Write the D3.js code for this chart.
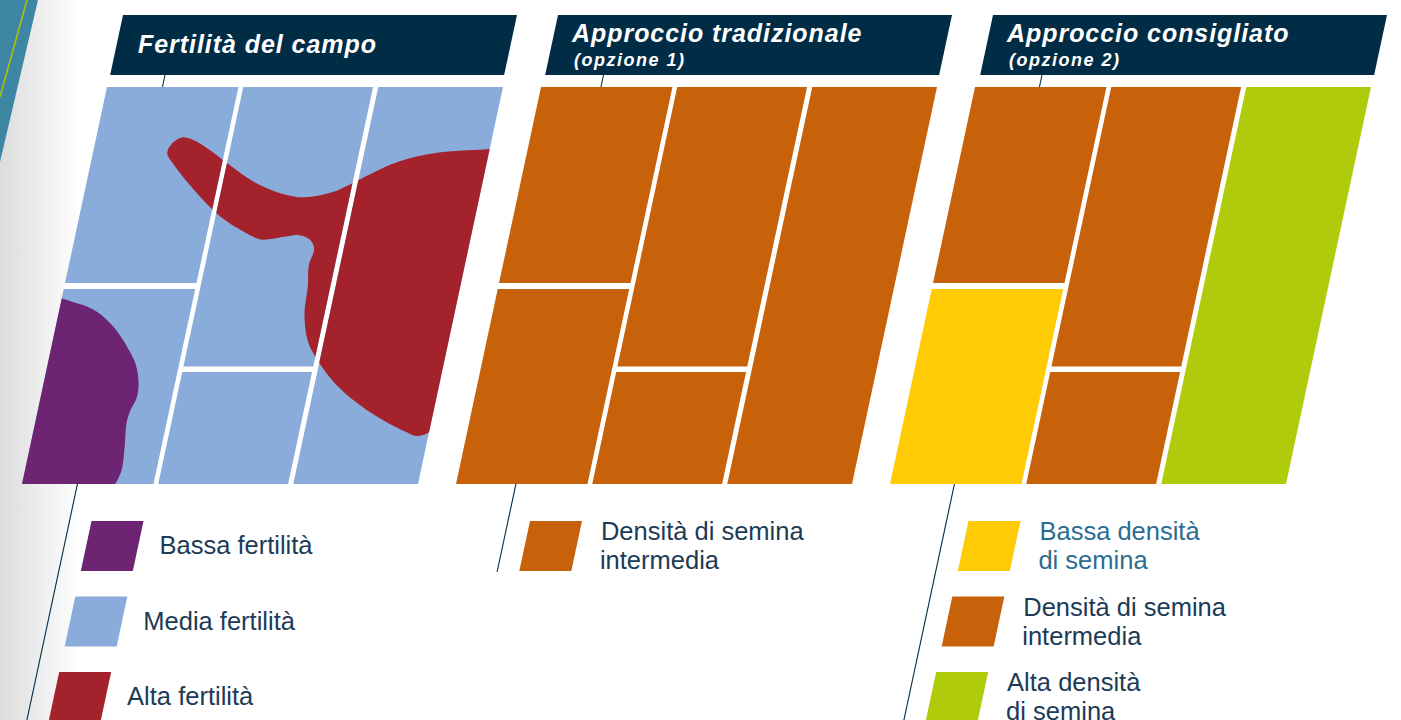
<!DOCTYPE html>
<html><head><meta charset="utf-8">
<script src="https://cdn.jsdelivr.net/npm/d3@7"></script>
<style>
body{margin:0;background:#fff;}
svg{display:block;font-family:"Liberation Sans",Arial,Helvetica,sans-serif;}
</style>
</head><body>
<svg id="chart" width="1401" height="720"></svg>
<script>
// ---------- DATA ----------
const panelTitles = ["Fertilità del campo", "Approccio tradizionale", "Approccio consigliato"];
const panelSubtitles = ["", "(opzione 1)", "(opzione 2)"];

const categories = ["Bassa fertilità", "Media fertilità", "Alta fertilità",
  "Bassa densità di semina", "Densità di semina intermedia", "Alta densità di semina"];

// field plots (in field units 0-100: u across, v down)
const plotColumns = [[0, 33.2], [34.4, 67.2], [68.5, 100]];
const plots = [
  {col: 0, v0: 0, v1: 49.4},
  {col: 0, v0: 50.9, v1: 100},
  {col: 1, v0: 0, v1: 70.4},
  {col: 1, v0: 71.8, v1: 100},
  {col: 2, v0: 0, v1: 100}
];
const plotClassField = ["Media fertilità", "Media fertilità", "Media fertilità", "Media fertilità", "Media fertilità"];
const plotClassOption1 = ["Densità di semina intermedia", "Densità di semina intermedia", "Densità di semina intermedia", "Densità di semina intermedia", "Densità di semina intermedia"];
const plotClassOption2 = ["Densità di semina intermedia", "Bassa densità di semina", "Densità di semina intermedia", "Densità di semina intermedia", "Alta densità di semina"];

// fertility zones drawn over the field (field units)
const highFertilityZone = [
  [18.8,16.7],[19.5,14.2],[21.7,12.7],[24.8,13.4],[28.6,15.4],[34.5,19.2],[42.3,23.9],[49.7,26.8],
  [55.8,27.8],[62.3,26.6],[67.7,23.9],[70.7,22.2],[77.6,18.8],[87.3,16.5],[100.6,15.6],[106,15.2],
  [107,40],[107,70],[102,84.5],[99.6,87.2],[97,87.9],[93.9,86.8],[84.5,82.2],[74.6,75.5],[67.5,68.3],
  [64.3,63.7],[62.1,57.0],[61.5,50.3],[60.6,44.8],[61.1,41.1],[60.4,39.4],[58.9,38.1],[56.2,37.3],
  [52.9,37.7],[47.1,38.4],[43.5,37.0],[35.7,32.7],[27.5,25.9],[21.1,19.6]
];
const lowFertilityZone = [
  [-3,53.5],[4.1,54.5],[9.6,56.6],[14.6,60.4],[19.1,65.4],[22.1,69.6],[24.0,74.6],[24.3,78.4],
  [23.4,81.4],[23.1,84.7],[23.9,90.6],[24.4,96.5],[23.6,99.8],[21,104],[-6,104],[-6,70]
];

const legendField = ["Bassa fertilità", "Media fertilità", "Alta fertilità"];
const legendOption1 = ["Densità di semina intermedia"];
const legendOption2 = ["Bassa densità di semina", "Densità di semina intermedia", "Alta densità di semina"];
const legendLines = {
  "Bassa fertilità": ["Bassa fertilità"],
  "Media fertilità": ["Media fertilità"],
  "Alta fertilità": ["Alta fertilità"],
  "Bassa densità di semina": ["Bassa densità", "di semina"],
  "Densità di semina intermedia": ["Densità di semina", "intermedia"],
  "Alta densità di semina": ["Alta densità", "di semina"]
};

// ---------- STYLE / LAYOUT ----------
const color = d3.scaleOrdinal().domain(categories)
  .range(["#6d2472", "#8aacda", "#a4222c", "#ffcb05", "#c8620a", "#b0cb0b"]);
const navy = "#012c46";
const textNavy = "#1c3b57";
const K = 0.2141;              // slant of the parallelograms (dx per dy)

const svg = d3.select("#chart");
const W = 1401, H = 720;

const fieldX = d3.scaleBand().domain(panelTitles).range([107, 1371]).paddingInner(0.0876);
const bannerX = d3.scaleBand().domain(panelTitles).range([123, 1387]).paddingInner(0.0943);
const lineX = d3.scalePoint().domain(panelTitles).range([165, 1042]);
const u = d3.scaleLinear().domain([0, 100]).range([0, fieldX.bandwidth()]);
const v = d3.scaleLinear().domain([0, 100]).range([87, 484]);
const bannerY = d3.scaleLinear().domain([0, 1]).range([15, 75]);
const legendY = d3.scaleLinear().domain([0, 1]).range([521, 596.5]);

const poly = d3.line().curve(d3.curveLinearClosed);
const smooth = d3.line().curve(d3.curveCatmullRomClosed.alpha(0.5));

function fpt(p, uu, vv) {
  const y = v(vv);
  return [fieldX(p) + u(uu) - K * (y - v(0)), y];
}

// ---------- BACKGROUND DECOR ----------
const defs = svg.append("defs");
const grad = defs.append("linearGradient").attr("id", "bgGrad").attr("x1", 0).attr("x2", 1).attr("y1", 0).attr("y2", 0);
grad.append("stop").attr("offset", 0).attr("stop-color", "#dcdcdc");
grad.append("stop").attr("offset", 1).attr("stop-color", "#ffffff");
svg.append("rect").attr("x", 0).attr("y", 0).attr("width", W).attr("height", H).attr("fill", "#fff");
svg.append("rect").attr("x", 0).attr("y", 0).attr("width", 80).attr("height", H).attr("fill", "url(#bgGrad)");
svg.append("path").attr("d", poly([[0, 0], [38, 0], [0, 162]])).attr("fill", "#3d87a4");
svg.append("line").attr("x1", 27).attr("y1", 0).attr("x2", 0).attr("y2", 97)
  .attr("stroke", "#a9c20a").attr("stroke-width", 1.6);

// ---------- CONNECTOR LINES ----------
const lineEnds = [720, 572, 720];
panelTitles.forEach((t, i) => {
  const y0 = bannerY(1), y1 = lineEnds[i];
  svg.append("line")
    .attr("x1", lineX(t)).attr("y1", y0)
    .attr("x2", lineX(t) - K * (y1 - y0)).attr("y2", y1)
    .attr("stroke", navy).attr("stroke-width", 1.1);
});

// ---------- BANNERS ----------
panelTitles.forEach((t, i) => {
  const x0 = bannerX(t), bw = bannerX.bandwidth();
  const yt = bannerY(0), yb = bannerY(1), dx = K * (yb - yt);
  svg.append("path").attr("d", poly([[x0, yt], [x0 + bw, yt], [x0 + bw - dx, yb], [x0 - dx, yb]]))
    .attr("fill", navy);
  const hasSub = panelSubtitles[i] !== "";
  svg.append("text").attr("x", x0 + (i === 0 ? 15 : 14)).attr("y", hasSub ? 42 : 53)
    .attr("fill", "#fff").attr("font-size", 25).attr("font-weight", "bold").attr("font-style", "italic")
    .attr("letter-spacing", 0.95).text(t);
  if (hasSub) {
    svg.append("text").attr("x", x0 + 16).attr("y", 66)
      .attr("fill", "#fff").attr("font-size", 18).attr("font-weight", "bold").attr("font-style", "italic")
      .attr("letter-spacing", 1.5).text(panelSubtitles[i]);
  }
});

// ---------- FIELDS ----------
const plotClasses = [plotClassField, plotClassOption1, plotClassOption2];
panelTitles.forEach((t, i) => {
  const g = svg.append("g");
  // white ground of the field (hides connector lines in the gaps)
  g.append("path").attr("d", poly([fpt(t, 0, 0), fpt(t, 100, 0), fpt(t, 100, 100), fpt(t, 0, 100)]))
    .attr("fill", "#fff");
  const cellPath = d => {
    const [a, b] = plotColumns[d.col];
    return poly([fpt(t, a, d.v0), fpt(t, b, d.v0), fpt(t, b, d.v1), fpt(t, a, d.v1)]);
  };
  g.selectAll("path.plot").data(plots).join("path").attr("class", "plot")
    .attr("d", cellPath).attr("fill", (d, j) => color(plotClasses[i][j]));
  if (i === 0) {
    const clip = defs.append("clipPath").attr("id", "fieldClip");
    clip.selectAll("path").data(plots).join("path").attr("d", cellPath);
    const zg = g.append("g").attr("clip-path", "url(#fieldClip)");
    zg.append("path").attr("d", smooth(highFertilityZone.map(p => fpt(t, p[0], p[1]))))
      .attr("fill", color("Alta fertilità"));
    zg.append("path").attr("d", smooth(lowFertilityZone.map(p => fpt(t, p[0], p[1]))))
      .attr("fill", color("Bassa fertilità"));
  }
});

// ---------- LEGENDS ----------
const legends = [legendField, legendOption1, legendOption2];
panelTitles.forEach((t, i) => {
  const lx = y => lineX(t) - K * (y - bannerY(1));
  legends[i].forEach((cat, j) => {
    const yt = legendY(j), sh = 50, sw = 52;
    const x0 = lx(yt) + 22;
    svg.append("path").attr("d", poly([[x0, yt], [x0 + sw, yt], [x0 + sw - K * sh, yt + sh], [x0 - K * sh, yt + sh]]))
      .attr("fill", color(cat));
    const lines = legendLines[cat];
    const fill = cat === "Bassa densità di semina" ? "#2b6d91" : textNavy;
    const firstBase = lines.length === 1 ? yt + 33 : yt + 19;
    const tx = lx(firstBase) + 97;
    lines.forEach((ln, k) => {
      svg.append("text").attr("x", tx - k * 1).attr("y", firstBase + k * 29)
        .attr("fill", fill).attr("font-size", 25.5).text(ln);
    });
  });
});
</script>
</body></html>
